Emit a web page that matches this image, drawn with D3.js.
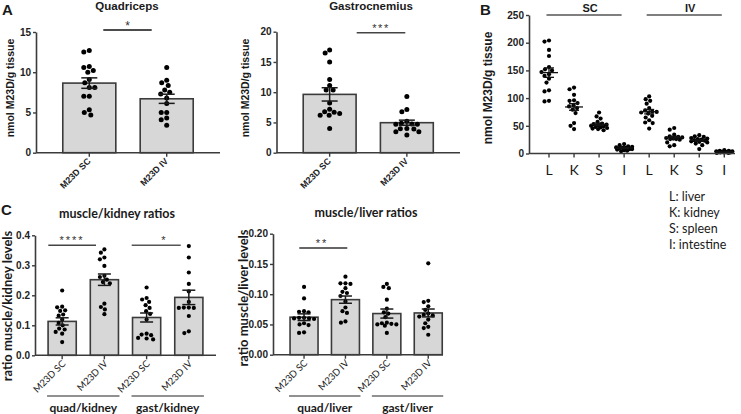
<!DOCTYPE html>
<html><head><meta charset="utf-8">
<script src="https://cdn.jsdelivr.net/npm/d3@7/dist/d3.min.js"></script>
<style>body{margin:0;background:#fff}svg{display:block}</style>
</head><body>
<svg id="c" width="741" height="414"></svg>
<script>
// ---------------- DATA ----------------
// Panel A – Quadriceps (nmol M23D/g tissue)
const groupCats = ["M23D SC", "M23D IV"];
const quadSC = [12.7, 12.5, 10.7, 10.6, 10.0, 10.2, 8.7, 9.1, 8.1, 8.1, 7.0, 7.0, 5.35, 4.7, 5.0];
const quadIV = [10.6, 8.7, 9.0, 7.8, 8.35, 7.3, 7.5, 6.8, 6.1, 5.0, 5.0, 4.3, 4.1, 3.4];
const quadMeans = [8.65, 6.7];
const quadSEM = [0.65, 0.57];
const quadTicks = [0, 5, 10, 15];
// Panel A – Gastrocnemius
const gastSC = [16.97, 16.47, 14.99, 12.1, 10.36, 10.36, 11.1, 8.2, 7.2, 6.67, 6.2, 6.2, 6.5, 6.78, 4.0];
const gastIV = [9.3, 6.78, 7.16, 4.85, 4.7, 4.7, 4.74, 5.18, 3.97, 3.47, 2.92, 3.47, 3.9, 4.0];
const gastMeans = [9.64, 4.96];
const gastSEM = [1.1, 0.42];
const gastTicks = [0, 5, 10, 15, 20];
// Panel B – organs
const organCats = ["L", "K", "S", "I", "L", "K", "S", "I"];
const routeLabels = ["SC", "IV"];
const bSC_L = [204, 202, 187, 176, 156, 152, 150, 147, 143, 140, 135, 128, 114, 112, 95, 94];
const bSC_K = [119, 116, 106, 96, 95, 91, 87, 85, 82, 79, 73, 55, 50, 44];
const bSC_S = [74, 67, 63, 57, 53, 54, 52, 51, 50, 49, 48, 47, 46, 45, 44, 42];
const bSC_I = [17, 15, 13, 12, 11, 10, 10, 9, 8, 8, 7, 6, 5, 4];
const bIV_L = [103, 98, 95, 90, 82, 78, 76, 75, 74, 72, 68, 65, 60, 56, 55, 45];
const bIV_K = [46, 43, 34, 31, 30, 29, 28, 27, 26, 26, 25, 20, 15, 13];
const bIV_S = [33, 31, 30, 28, 27, 26, 25, 24, 23, 22, 21, 20, 18, 15, 8];
const bIV_I = [6, 5, 5, 4, 4, 3, 3, 3, 2, 2, 2, 1, 1];
const organMeans = [146, 84, 52.6, 9.7, 75.5, 28.5, 23.4, 3.2];
const organSEM = [8.5, 6, 2.3, 1.1, 4, 2.5, 1.5, 0.4];
const organTicks = [0, 50, 100, 150, 200, 250];
const legendLines = ["L: liver", "K: kidney", "S: spleen", "I: intestine"];
// Panel C – muscle/kidney ratios
const ratioCats = ["M23D SC", "M23D IV", "M23D SC", "M23D IV"];
const kQuadSC = [0.216, 0.16, 0.162, 0.15, 0.148, 0.136, 0.132, 0.119, 0.108, 0.1, 0.089, 0.086, 0.078, 0.072, 0.044];
const kQuadIV = [0.353, 0.342, 0.326, 0.32, 0.298, 0.265, 0.261, 0.252, 0.244, 0.24, 0.172, 0.161, 0.153, 0.137];
const kGastSC = [0.226, 0.186, 0.191, 0.178, 0.167, 0.158, 0.147, 0.138, 0.119, 0.072, 0.067, 0.069, 0.056, 0.053, 0.058];
const kGastIV = [0.364, 0.326, 0.276, 0.238, 0.213, 0.159, 0.158, 0.158, 0.159, 0.178, 0.131, 0.074, 0.08];
const kidneyMeans = [0.113, 0.252, 0.126, 0.193];
const kidneySEM = [0.012, 0.019, 0.015, 0.024];
const kidneyTicks = [0, 0.1, 0.2, 0.3, 0.4];
const kidneyGroups = ["quad/kidney", "gast/kidney"];
// Panel C – muscle/liver ratios
const lQuadSC = [0.112, 0.093, 0.071, 0.070, 0.072, 0.061, 0.060, 0.060, 0.059, 0.061, 0.052, 0.050, 0.049, 0.037, 0.036];
const lQuadIV = [0.129, 0.118, 0.118, 0.117, 0.110, 0.104, 0.102, 0.097, 0.088, 0.078, 0.072, 0.069, 0.055, 0.053];
const lGastSC = [0.117, 0.112, 0.110, 0.091, 0.076, 0.070, 0.068, 0.062, 0.053, 0.052, 0.051, 0.050, 0.050, 0.048, 0.036];
const lGastIV = [0.151, 0.089, 0.087, 0.080, 0.074, 0.068, 0.066, 0.065, 0.063, 0.058, 0.052, 0.046, 0.044, 0.033];
const liverMeans = [0.062, 0.091, 0.068, 0.069];
const liverSEM = [0.0055, 0.006, 0.0075, 0.0065];
const liverTicks = [0, 0.05, 0.10, 0.15, 0.20];
const liverGroups = ["quad/liver", "gast/liver"];

// ---------------- DRAWING ----------------
const svg = d3.select("#c");
const AX = "#3b3b3b";
const ARIAL = "Arial, 'Liberation Sans', sans-serif";
const CAL = "Lato, 'Open Sans', sans-serif";

// deterministic beeswarm: nearest free horizontal offset, limited to ±maxOff
function swarm(vals, y, cx, minDist, maxOff) {
  const order = vals.map((v, i) => i).sort((a, b) => vals[b] - vals[a]);
  const placed = [], xs = new Array(vals.length);
  for (const i of order) {
    const py = y(vals[i]);
    let best = null, bestScore = -1, bestOff = 0;
    for (let k = 0; ; k++) {
      const off = (k % 2 === 1 ? -1 : 1) * Math.ceil(k / 2) * 0.5;
      if (Math.abs(off) > maxOff) break;
      const dmin = placed.length ? d3.min(placed, p => Math.hypot(p.x - off, p.y - py)) : Infinity;
      if (dmin >= minDist) { best = off; break; }
      if (dmin > bestScore) { bestScore = dmin; bestOff = off; }
    }
    if (best === null) best = bestOff;
    placed.push({x: best, y: py});
    xs[i] = cx + best;
  }
  return xs;
}

function text(g, x, y, s, o) {
  const t = g.append("text").attr("x", x).attr("y", y).text(s)
    .attr("font-family", o.ff || ARIAL).attr("font-size", o.fs || 11)
    .attr("font-weight", o.fw || "normal").attr("fill", o.fill || "#1a1a1a")
    .attr("text-anchor", o.anchor || "middle");
  if (o.rot) t.attr("transform", `rotate(${o.rot},${x},${y})`);
  if (o.ls) t.attr("letter-spacing", o.ls);
  return t;
}

function yAxis(g, y, x0, ticks, fmt) {
  const a = g.append("g").attr("transform", `translate(${x0},0)`)
    .call(d3.axisLeft(y).tickValues(ticks).tickFormat(fmt).tickSize(3).tickSizeOuter(0).tickPadding(2));
  a.select(".domain").attr("stroke", AX).attr("stroke-width", 1.6);
  a.selectAll(".tick line").attr("stroke", AX).attr("stroke-width", 1.4);
  a.selectAll(".tick text").attr("font-family", ARIAL).attr("font-size", 10).attr("font-weight", "bold").attr("fill", "#222");
}

function barPanel(o) {
  const g = svg.append("g");
  const n = o.means.length;
  const x = d3.scaleBand().domain(d3.range(n)).range([o.x0, o.x1]).paddingInner(o.pi).paddingOuter(o.po);
  const y = d3.scaleLinear().domain([0, o.ymax]).range([o.yb, o.yt]);
  const bw = x.bandwidth();
  g.selectAll("rect.bar").data(o.means).join("rect").attr("class", "bar")
    .attr("x", (d, i) => x(i)).attr("width", bw).attr("y", d => y(d)).attr("height", d => y(0) - y(d))
    .attr("fill", "#d7d7d7").attr("stroke", AX).attr("stroke-width", 1.6);
  o.groups.forEach((vals, i) => {
    const cx = x(i) + bw / 2;
    const xs = swarm(vals, y, cx, o.r * 2 + 0.4, o.maxOff);
    g.append("g").selectAll("circle").data(vals).join("circle")
      .attr("cx", (d, j) => xs[j]).attr("cy", d => y(d)).attr("r", o.r).attr("fill", "#000");
  });
  // error bars (mean ± SEM)
  o.means.forEach((m, i) => {
    const cx = x(i) + bw / 2, s = o.sem[i], cw = o.capW / 2;
    const eg = g.append("g").attr("stroke", "#1a1a1a").attr("stroke-width", 1.5);
    eg.append("line").attr("x1", cx).attr("x2", cx).attr("y1", y(m - s)).attr("y2", y(m + s));
    eg.append("line").attr("x1", cx - cw).attr("x2", cx + cw).attr("y1", y(m + s)).attr("y2", y(m + s));
    eg.append("line").attr("x1", cx - cw).attr("x2", cx + cw).attr("y1", y(m - s)).attr("y2", y(m - s));
  });
  yAxis(g, y, o.x0, o.ticks, o.fmt);
  // x axis
  g.append("line").attr("x1", o.x0).attr("x2", o.axisEnd || o.x1).attr("y1", y(0)).attr("y2", y(0))
    .attr("stroke", AX).attr("stroke-width", 1.6);
  o.cats.forEach((c, i) => {
    const cx = x(i) + bw / 2;
    g.append("line").attr("x1", cx).attr("x2", cx).attr("y1", y(0)).attr("y2", y(0) + 4).attr("stroke", AX).attr("stroke-width", 1.4);
    text(g, cx + o.lblDx, y(0) + o.lblDy, c, {ff: o.lblFf, fs: o.lblFs, fw: o.lblFw, anchor: "end", rot: -45, fill: "#222"});
  });
  // title + y label
  text(g, o.titleX, o.titleY, o.title, {ff: o.titleFf, fs: o.titleFs, fw: "bold"});
  text(g, o.ylabX, o.ylabY, o.ylab, {ff: o.ylabFf, fs: o.ylabFs, fw: "bold", rot: -90});
  // significance
  o.sig.forEach(s => {
    g.append("line").attr("x1", s.x1).attr("x2", s.x2).attr("y1", s.y).attr("y2", s.y).attr("stroke", s.col).attr("stroke-width", 1.4);
    text(g, s.tx, s.y + s.ty, s.label, {fs: s.fs, ls: s.ls, fill: "#333"});
  });
  // grouping underlines
  if (o.groupLbls) {
    o.groupLbls.forEach((lab, k) => {
      const a = x(2 * k) - 1, b = x(2 * k + 1) + bw + 1;
      g.append("line").attr("x1", a).attr("x2", b).attr("y1", 396).attr("y2", 396).attr("stroke", "#222").attr("stroke-width", 1);
      text(g, (a + b) / 2, 412, lab, {ff: CAL, fs: 12, fw: "bold"});
    });
  }
  return g;
}

// Panel letters
text(svg, 2, 15, "A", {fs: 15, fw: "bold", anchor: "start"});
text(svg, 480, 15, "B", {fs: 15, fw: "bold", anchor: "start"});
text(svg, 1, 215, "C", {fs: 15, fw: "bold", anchor: "start"});

barPanel({
  means: quadMeans, sem: quadSEM, groups: [quadSC, quadIV], cats: groupCats,
  x0: 36, x1: 220, pi: 0.315, po: 0.346, yb: 152.7, yt: 32, ymax: 15, ticks: quadTicks, fmt: d3.format("d"),
  r: 2.5, maxOff: 14, capW: 16, lblDx: 2, lblDy: 9, lblFf: ARIAL, lblFs: 9, lblFw: "bold",
  title: "Quadriceps", titleX: 127, titleY: 10, titleFf: ARIAL, titleFs: 11.5,
  ylab: "nmol M23D/g tissue", ylabX: 13.5, ylabY: 88, ylabFf: ARIAL, ylabFs: 10.5,
  sig: [{x1: 103.3, x2: 151.7, y: 30, tx: 127.5, ty: -0.5, label: "*", fs: 12, col: "#111"}]
});
barPanel({
  means: gastMeans, sem: gastSEM, groups: [gastSC, gastIV], cats: groupCats,
  x0: 276.5, x1: 460, pi: 0.315, po: 0.346, yb: 152.7, yt: 31.7, ymax: 20, ticks: gastTicks, fmt: d3.format("d"),
  r: 2.5, maxOff: 18, capW: 16, lblDx: 2, lblDy: 9, lblFf: ARIAL, lblFs: 9, lblFw: "bold",
  title: "Gastrocnemius", titleX: 371, titleY: 10, titleFf: ARIAL, titleFs: 11.5,
  ylab: "nmol M23D/g tissue", ylabX: 248.5, ylabY: 88, ylabFf: ARIAL, ylabFs: 10.5,
  sig: [{x1: 356.7, x2: 405.3, y: 32.7, tx: 381, ty: -1, label: "***", fs: 11, ls: 1.5, col: "#444"}]
});
barPanel({
  means: kidneyMeans, sem: kidneySEM, groups: [kQuadSC, kQuadIV, kGastSC, kGastIV], cats: ratioCats,
  x0: 35, x1: 216, pi: 0.333, po: 0.31, yb: 355.3, yt: 235.3, ymax: 0.4, ticks: kidneyTicks, fmt: d3.format(".1f"),
  r: 2.1, maxOff: 12, capW: 13, lblDx: 4, lblDy: 9, lblFf: CAL, lblFs: 9.5, lblFw: "normal",
  title: "muscle/kidney ratios", titleX: 117, titleY: 218, titleFf: CAL, titleFs: 12.5,
  ylab: "ratio muscle/kidney levels", ylabX: 12, ylabY: 306, ylabFf: CAL, ylabFs: 13,
  sig: [{x1: 48.3, x2: 96, y: 245.3, tx: 72, ty: -1.5, label: "****", fs: 11, ls: 2, col: "#444"},
        {x1: 131.7, x2: 180.7, y: 245.3, tx: 163.5, ty: -1.5, label: "*", fs: 11, col: "#555"}],
  groupLbls: kidneyGroups
});
barPanel({
  means: liverMeans, sem: liverSEM, groups: [lQuadSC, lQuadIV, lGastSC, lGastIV], cats: ratioCats,
  x0: 273, x1: 459.3, axisEnd: 443, pi: 0.324, po: 0.412, yb: 354.7, yt: 233.7, ymax: 0.2, ticks: liverTicks, fmt: d3.format(".2f"),
  r: 2.1, maxOff: 12, capW: 13, lblDx: 4, lblDy: 9, lblFf: CAL, lblFs: 9.5, lblFw: "normal",
  title: "muscle/liver ratios", titleX: 366, titleY: 217, titleFf: CAL, titleFs: 12.5,
  ylab: "ratio muscle/liver levels", ylabX: 247.5, ylabY: 298, ylabFf: CAL, ylabFs: 13,
  sig: [{x1: 299.3, x2: 347.3, y: 248, tx: 322, ty: -1.5, label: "**", fs: 11, ls: 2, col: "#333"}],
  groupLbls: liverGroups
});

// ---------- Panel B ----------
(function () {
  const g = svg.append("g");
  const groups = [bSC_L, bSC_K, bSC_S, bSC_I, bIV_L, bIV_K, bIV_S, bIV_I];
  const x = d3.scalePoint().domain(d3.range(organCats.length)).range([549, 724.3]);
  const y = d3.scaleLinear().domain([0, 250]).range([153.5, 15]);
  groups.forEach((vals, i) => {
    const xs = swarm(vals, y, x(i), 4.4, 8);
    g.append("g").selectAll("circle").data(vals).join("circle")
      .attr("cx", (d, j) => xs[j]).attr("cy", d => y(d)).attr("r", 2.1).attr("fill", "#000");
  });
  organMeans.forEach((m, i) => {
    const cx = x(i), s = organSEM[i];
    const eg = g.append("g").attr("stroke", "#111").attr("stroke-width", 1.3);
    eg.append("line").attr("x1", cx - 9).attr("x2", cx + 9).attr("y1", y(m)).attr("y2", y(m));
    eg.append("line").attr("x1", cx).attr("x2", cx).attr("y1", y(m - s)).attr("y2", y(m + s));
    eg.append("line").attr("x1", cx - 5).attr("x2", cx + 5).attr("y1", y(m + s)).attr("y2", y(m + s));
    eg.append("line").attr("x1", cx - 5).attr("x2", cx + 5).attr("y1", y(m - s)).attr("y2", y(m - s));
  });
  yAxis(g, y, 529, organTicks, d3.format("d"));
  g.append("line").attr("x1", 529).attr("x2", 735).attr("y1", y(0)).attr("y2", y(0)).attr("stroke", AX).attr("stroke-width", 1.6);
  organCats.forEach((c, i) => {
    g.append("line").attr("x1", x(i)).attr("x2", x(i)).attr("y1", y(0)).attr("y2", y(0) + 4).attr("stroke", AX).attr("stroke-width", 1.4);
    text(g, x(i), 175, c, {ff: CAL, fs: 14});
  });
  routeLabels.forEach((r, k) => {
    const a = x(4 * k) - 2.5, b = x(4 * k + 3) - 2.5;
    g.append("line").attr("x1", a).attr("x2", b).attr("y1", 15).attr("y2", 15).attr("stroke", "#7f7f7f").attr("stroke-width", 2);
    text(g, (a + b) / 2 + 6, 11.5, r, {ff: ARIAL, fs: 11, fw: "bold"});
  });
  text(g, 492, 88, "nmol M23D/g tissue", {ff: ARIAL, fs: 12, fw: "bold", rot: -90});
  legendLines.forEach((l, k) => text(g, 669, 201.3 + 16 * k, l, {ff: CAL, fs: 12.5, anchor: "start"}));
})();
</script>
</body></html>
